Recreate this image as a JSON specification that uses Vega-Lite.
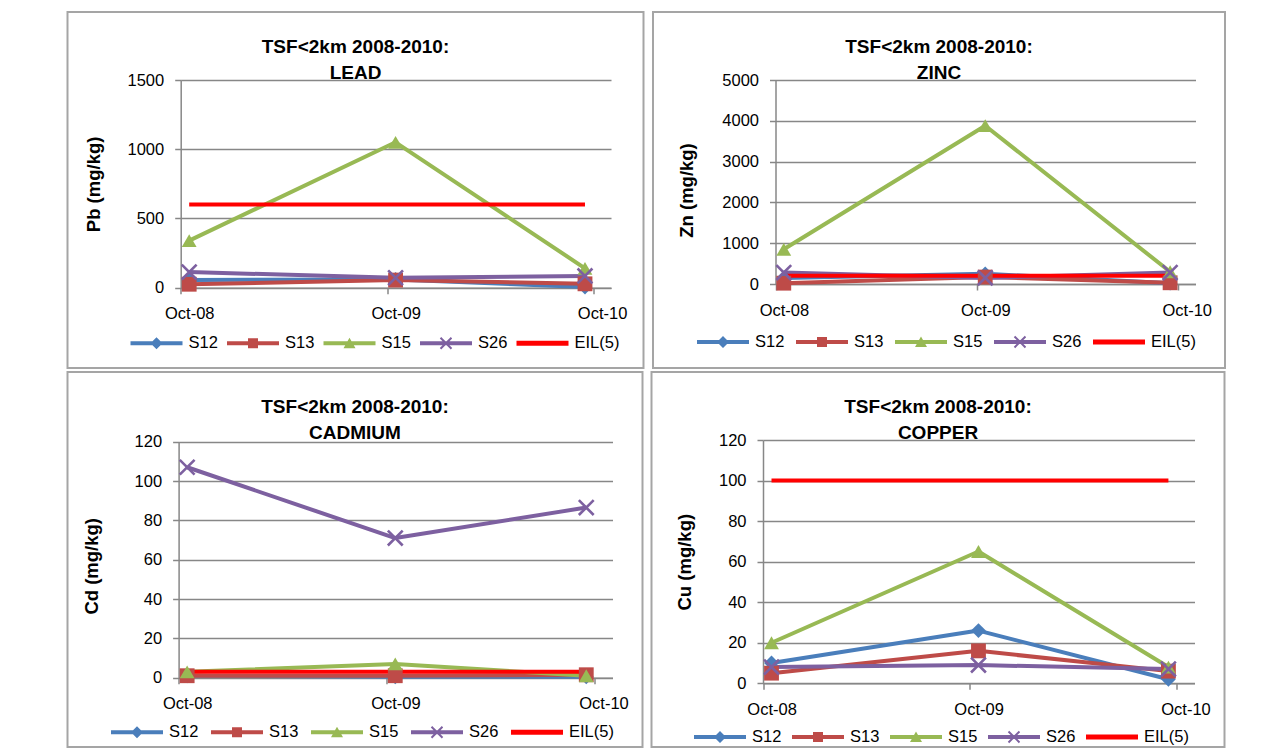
{
  "$schema": "https://vega.github.io/schema/vega-lite/v6.json",
  "padding": {"left": 66.5, "top": 11, "right": 0, "bottom": 0},
  "background": "white",
  "datasets": {
    "lead": [
      {"date": "2008-10-16", "series": "S12", "value": 55}, {"date": "2009-10-16", "series": "S12", "value": 60}, {"date": "2010-09-16", "series": "S12", "value": 5},
      {"date": "2008-10-16", "series": "S13", "value": 25}, {"date": "2009-10-16", "series": "S13", "value": 55}, {"date": "2010-09-16", "series": "S13", "value": 28},
      {"date": "2008-10-16", "series": "S15", "value": 340}, {"date": "2009-10-16", "series": "S15", "value": 1050}, {"date": "2010-09-16", "series": "S15", "value": 140},
      {"date": "2008-10-16", "series": "S26", "value": 113}, {"date": "2009-10-16", "series": "S26", "value": 72}, {"date": "2010-09-16", "series": "S26", "value": 85},
      {"date": "2008-10-16", "series": "EIL(5)", "value": 600}, {"date": "2009-10-16", "series": "EIL(5)", "value": 600}, {"date": "2010-09-16", "series": "EIL(5)", "value": 600}
    ],
    "zinc": [
      {"date": "2008-10-16", "series": "S12", "value": 150}, {"date": "2009-10-16", "series": "S12", "value": 250}, {"date": "2010-09-16", "series": "S12", "value": 20},
      {"date": "2008-10-16", "series": "S13", "value": 20}, {"date": "2009-10-16", "series": "S13", "value": 170}, {"date": "2010-09-16", "series": "S13", "value": 30},
      {"date": "2008-10-16", "series": "S15", "value": 850}, {"date": "2009-10-16", "series": "S15", "value": 3880}, {"date": "2010-09-16", "series": "S15", "value": 300},
      {"date": "2008-10-16", "series": "S26", "value": 280}, {"date": "2009-10-16", "series": "S26", "value": 150}, {"date": "2010-09-16", "series": "S26", "value": 280},
      {"date": "2008-10-16", "series": "EIL(5)", "value": 200}, {"date": "2009-10-16", "series": "EIL(5)", "value": 200}, {"date": "2010-09-16", "series": "EIL(5)", "value": 200}
    ],
    "cadmium": [
      {"date": "2008-10-16", "series": "S12", "value": 1}, {"date": "2009-10-16", "series": "S12", "value": 0.5}, {"date": "2010-09-16", "series": "S12", "value": 0.5},
      {"date": "2008-10-16", "series": "S13", "value": 1}, {"date": "2009-10-16", "series": "S13", "value": 1}, {"date": "2010-09-16", "series": "S13", "value": 1.5},
      {"date": "2008-10-16", "series": "S15", "value": 3}, {"date": "2009-10-16", "series": "S15", "value": 7}, {"date": "2010-09-16", "series": "S15", "value": 1},
      {"date": "2008-10-16", "series": "S26", "value": 107}, {"date": "2009-10-16", "series": "S26", "value": 71}, {"date": "2010-09-16", "series": "S26", "value": 86.5},
      {"date": "2008-10-16", "series": "EIL(5)", "value": 3}, {"date": "2009-10-16", "series": "EIL(5)", "value": 3}, {"date": "2010-09-16", "series": "EIL(5)", "value": 3}
    ],
    "copper": [
      {"date": "2008-10-16", "series": "S12", "value": 10}, {"date": "2009-10-16", "series": "S12", "value": 26}, {"date": "2010-09-16", "series": "S12", "value": 2},
      {"date": "2008-10-16", "series": "S13", "value": 5}, {"date": "2009-10-16", "series": "S13", "value": 16}, {"date": "2010-09-16", "series": "S13", "value": 6},
      {"date": "2008-10-16", "series": "S15", "value": 20}, {"date": "2009-10-16", "series": "S15", "value": 65}, {"date": "2010-09-16", "series": "S15", "value": 8},
      {"date": "2008-10-16", "series": "S26", "value": 8}, {"date": "2009-10-16", "series": "S26", "value": 9}, {"date": "2010-09-16", "series": "S26", "value": 7},
      {"date": "2008-10-16", "series": "EIL(5)", "value": 100}, {"date": "2009-10-16", "series": "EIL(5)", "value": 100}, {"date": "2010-09-16", "series": "EIL(5)", "value": 100}
    ]
  },
  "config": {
    "font": "Liberation Sans",
    "view": {"stroke": "#a5a5a5", "strokeWidth": 2},
    "axis": {
      "labelFont": "Liberation Sans", "labelFontSize": 16.5, "labelColor": "#000000",
      "titleFont": "Liberation Sans", "titleFontSize": 18.5, "titleFontWeight": "bold", "titleColor": "#000000",
      "domainColor": "#878787", "gridColor": "#878787", "tickColor": "#878787",
      "domainWidth": 1.5, "gridWidth": 1.5, "tickWidth": 1.5, "tickSize": 6,
      "labelPadding": 11, "labelFlush": false, "labelOverlap": false, "labelBound": false
    },
    "axisY": {"titleAngle": -90, "titleBaseline": "middle", "titleAlign": "center", "grid": true, "format": "d"},
    "axisX": {"grid": false, "labelPadding": 12},
    "legend": {
      "labelFont": "Liberation Sans", "labelFontSize": 16.5, "labelColor": "#000000",
      "symbolSize": 400, "labelOffset": 22, "padding": 0, "rowPadding": 0, "labelLimit": 300
    },
    "title": {"font": "Liberation Sans", "fontSize": 19, "fontWeight": "bold", "color": "#000000", "lineHeight": 26, "baseline": "bottom", "anchor": "middle", "offset": -70.5}
  },
  "resolve": {"scale": {"color": "independent", "shape": "independent"}, "legend": {"color": "independent", "shape": "independent"}},
  "spacing": 2,
  "vconcat": [
    {
      "spacing": 7.5,
      "resolve": {"scale": {"color": "independent", "shape": "independent"}, "legend": {"color": "independent", "shape": "independent"}},
      "hconcat": [
        {
          "width": 576, "height": 356,
          "data": {"name": "lead"},
          "title": {"text": ["TSF<2km 2008-2010:", "LEAD"]},
          "encoding": {
            "x": {"field": "date", "type": "temporal",
              "scale": {"type": "utc", "domain": [{"year": 2008, "month": 10, "date": 1, "utc": true}, {"year": 2010, "month": 11, "date": 1, "utc": true}], "range": [113.2, 543.5]},
              "axis": {"title": null, "values": [{"year": 2008, "month": 10, "date": 1, "utc": true}, {"year": 2009, "month": 10, "date": 1, "utc": true}, {"year": 2010, "month": 10, "date": 1, "utc": true}], "format": "%b-%y", "offset": -80.3, "labelOffset": 8.6}},
            "y": {"field": "value", "type": "quantitative",
              "scale": {"domain": [0, 1500], "range": [275.7, 68], "nice": false, "zero": false},
              "axis": {"title": "Pb (mg/kg)", "values": [0, 500, 1000, 1500], "format": "d", "offset": -113.2, "titleX": -87.7, "titleY": 171.9}},
            "color": {"field": "series", "type": "nominal",
              "scale": {"domain": ["S12", "S13", "S15", "S26", "EIL(5)"], "range": ["#4A7EBB", "#BE4B48", "#98B954", "#7D60A0", "#FF0000"]},
              "legend": {"title": null, "orient": "none", "legendX": 79, "legendY": 321, "direction": "horizontal", "columns": 5, "columnPadding": 8.5,
                "encode": {"symbols": {"update": {
                  "shape": {"signal": "{'S12':'M-2.6,-0.2H2.6V0.2H-2.6Z M0,-0.6L0.6,0L0,0.6L-0.6,0Z','S13':'M-2.6,-0.2H2.6V0.2H-2.6Z M-0.5,-0.5H0.5V0.5H-0.5Z','S15':'M-2.6,-0.2H2.6V0.2H-2.6Z M0,-0.55L0.6,0.5L-0.6,0.5Z','S26':'M-2.6,-0.2H2.6V0.2H-2.6Z M-0.48,-0.62L0.62,0.48L0.48,0.62L-0.62,-0.48Z M0.48,-0.62L0.62,-0.48L-0.48,0.62L-0.62,0.48Z','EIL(5)':'M-2.6,-0.25H2.6V0.25H-2.6Z'}[datum.value]"},
                  "fill": {"signal": "{'S12':'#4A7EBB','S13':'#BE4B48','S15':'#98B954','S26':'#7D60A0','EIL(5)':'#FF0000'}[datum.value]"},
                  "stroke": {"value": "transparent"}, "strokeWidth": {"value": 0}, "size": {"value": 400}, "opacity": {"value": 1}
                }}}}}
          },
          "layer": [
            {"mark": {"type": "line", "strokeWidth": 4, "strokeJoin": "round", "strokeCap": "butt"}},
            {"transform": [{"filter": "datum.series !== 'EIL(5)'"}],
             "mark": {"type": "point", "filled": true, "size": 220, "opacity": 1, "strokeWidth": 0},
             "encoding": {"shape": {"field": "series", "type": "nominal", "legend": null,
               "scale": {"domain": ["S12", "S13", "S15", "S26"], "range": ["diamond", "square", "triangle-up", "M-0.875,-1.125L1.125,0.875L0.875,1.125L-1.125,-0.875Z M0.875,-1.125L1.125,-0.875L-0.875,1.125L-1.125,0.875Z"]}}}}
          ]
        },
        {
          "width": 572, "height": 356,
          "data": {"name": "zinc"},
          "title": {"text": ["TSF<2km 2008-2010:", "ZINC"]},
          "encoding": {
            "x": {"field": "date", "type": "temporal",
              "scale": {"type": "utc", "domain": [{"year": 2008, "month": 10, "date": 1, "utc": true}, {"year": 2010, "month": 11, "date": 1, "utc": true}], "range": [122.5, 542.5]},
              "axis": {"title": null, "values": [{"year": 2008, "month": 10, "date": 1, "utc": true}, {"year": 2009, "month": 10, "date": 1, "utc": true}, {"year": 2010, "month": 10, "date": 1, "utc": true}], "format": "%b-%y", "offset": -84, "labelOffset": 8.4}},
            "y": {"field": "value", "type": "quantitative",
              "scale": {"domain": [0, 5000], "range": [272, 68], "nice": false, "zero": false},
              "axis": {"title": "Zn (mg/kg)", "values": [0, 1000, 2000, 3000, 4000, 5000], "format": "d", "offset": -122.5, "titleX": -89.2, "titleY": 178}},
            "color": {"field": "series", "type": "nominal",
              "scale": {"domain": ["S12", "S13", "S15", "S26", "EIL(5)"], "range": ["#4A7EBB", "#BE4B48", "#98B954", "#7D60A0", "#FF0000"]},
              "legend": {"title": null, "orient": "none", "legendX": 60, "legendY": 319.7, "direction": "horizontal", "columns": 5, "columnPadding": 11,
                "encode": {"symbols": {"update": {
                  "shape": {"signal": "{'S12':'M-2.6,-0.2H2.6V0.2H-2.6Z M0,-0.6L0.6,0L0,0.6L-0.6,0Z','S13':'M-2.6,-0.2H2.6V0.2H-2.6Z M-0.5,-0.5H0.5V0.5H-0.5Z','S15':'M-2.6,-0.2H2.6V0.2H-2.6Z M0,-0.55L0.6,0.5L-0.6,0.5Z','S26':'M-2.6,-0.2H2.6V0.2H-2.6Z M-0.48,-0.62L0.62,0.48L0.48,0.62L-0.62,-0.48Z M0.48,-0.62L0.62,-0.48L-0.48,0.62L-0.62,0.48Z','EIL(5)':'M-2.6,-0.25H2.6V0.25H-2.6Z'}[datum.value]"},
                  "fill": {"signal": "{'S12':'#4A7EBB','S13':'#BE4B48','S15':'#98B954','S26':'#7D60A0','EIL(5)':'#FF0000'}[datum.value]"},
                  "stroke": {"value": "transparent"}, "strokeWidth": {"value": 0}, "size": {"value": 400}, "opacity": {"value": 1}
                }}}}}
          },
          "layer": [
            {"mark": {"type": "line", "strokeWidth": 4, "strokeJoin": "round", "strokeCap": "butt"}},
            {"transform": [{"filter": "datum.series !== 'EIL(5)'"}],
             "mark": {"type": "point", "filled": true, "size": 220, "opacity": 1, "strokeWidth": 0},
             "encoding": {"shape": {"field": "series", "type": "nominal", "legend": null,
               "scale": {"domain": ["S12", "S13", "S15", "S26"], "range": ["diamond", "square", "triangle-up", "M-0.875,-1.125L1.125,0.875L0.875,1.125L-1.125,-0.875Z M0.875,-1.125L1.125,-0.875L-0.875,1.125L-1.125,0.875Z"]}}}}
          ]
        }
      ]
    },
    {
      "spacing": 7,
      "resolve": {"scale": {"color": "independent", "shape": "independent"}, "legend": {"color": "independent", "shape": "independent"}},
      "hconcat": [
        {
          "width": 575, "height": 375,
          "data": {"name": "cadmium"},
          "title": {"text": ["TSF<2km 2008-2010:", "CADMIUM"]},
          "encoding": {
            "x": {"field": "date", "type": "temporal",
              "scale": {"type": "utc", "domain": [{"year": 2008, "month": 10, "date": 1, "utc": true}, {"year": 2010, "month": 11, "date": 1, "utc": true}], "range": [111.1, 545]},
              "axis": {"title": null, "values": [{"year": 2008, "month": 10, "date": 1, "utc": true}, {"year": 2009, "month": 10, "date": 1, "utc": true}, {"year": 2010, "month": 10, "date": 1, "utc": true}], "format": "%b-%y", "offset": -69.3, "labelOffset": 8.7}},
            "y": {"field": "value", "type": "quantitative",
              "scale": {"domain": [0, 120], "range": [305.7, 69.7], "nice": false, "zero": false},
              "axis": {"title": "Cd (mg/kg)", "values": [0, 20, 40, 60, 80, 100, 120], "format": "d", "offset": -111.1, "titleX": -87.6, "titleY": 193.8}},
            "color": {"field": "series", "type": "nominal",
              "scale": {"domain": ["S12", "S13", "S15", "S26", "EIL(5)"], "range": ["#4A7EBB", "#BE4B48", "#98B954", "#7D60A0", "#FF0000"]},
              "legend": {"title": null, "orient": "none", "legendX": 59.5, "legendY": 350, "direction": "horizontal", "columns": 5, "columnPadding": 12,
                "encode": {"symbols": {"update": {
                  "shape": {"signal": "{'S12':'M-2.6,-0.2H2.6V0.2H-2.6Z M0,-0.6L0.6,0L0,0.6L-0.6,0Z','S13':'M-2.6,-0.2H2.6V0.2H-2.6Z M-0.5,-0.5H0.5V0.5H-0.5Z','S15':'M-2.6,-0.2H2.6V0.2H-2.6Z M0,-0.55L0.6,0.5L-0.6,0.5Z','S26':'M-2.6,-0.2H2.6V0.2H-2.6Z M-0.48,-0.62L0.62,0.48L0.48,0.62L-0.62,-0.48Z M0.48,-0.62L0.62,-0.48L-0.48,0.62L-0.62,0.48Z','EIL(5)':'M-2.6,-0.25H2.6V0.25H-2.6Z'}[datum.value]"},
                  "fill": {"signal": "{'S12':'#4A7EBB','S13':'#BE4B48','S15':'#98B954','S26':'#7D60A0','EIL(5)':'#FF0000'}[datum.value]"},
                  "stroke": {"value": "transparent"}, "strokeWidth": {"value": 0}, "size": {"value": 400}, "opacity": {"value": 1}
                }}}}}
          },
          "layer": [
            {"mark": {"type": "line", "strokeWidth": 4, "strokeJoin": "round", "strokeCap": "butt"}},
            {"transform": [{"filter": "datum.series !== 'EIL(5)'"}],
             "mark": {"type": "point", "filled": true, "size": 220, "opacity": 1, "strokeWidth": 0},
             "encoding": {"shape": {"field": "series", "type": "nominal", "legend": null,
               "scale": {"domain": ["S12", "S13", "S15", "S26"], "range": ["diamond", "square", "triangle-up", "M-0.875,-1.125L1.125,0.875L0.875,1.125L-1.125,-0.875Z M0.875,-1.125L1.125,-0.875L-0.875,1.125L-1.125,0.875Z"]}}}}
          ]
        },
        {
          "width": 573, "height": 375,
          "data": {"name": "copper"},
          "title": {"text": ["TSF<2km 2008-2010:", "COPPER"]},
          "encoding": {
            "x": {"field": "date", "type": "temporal",
              "scale": {"type": "utc", "domain": [{"year": 2008, "month": 10, "date": 1, "utc": true}, {"year": 2010, "month": 11, "date": 1, "utc": true}], "range": [111.5, 543]},
              "axis": {"title": null, "values": [{"year": 2008, "month": 10, "date": 1, "utc": true}, {"year": 2009, "month": 10, "date": 1, "utc": true}, {"year": 2010, "month": 10, "date": 1, "utc": true}], "format": "%b-%y", "offset": -63.7, "labelOffset": 8.6}},
            "y": {"field": "value", "type": "quantitative",
              "scale": {"domain": [0, 120], "range": [311.3, 68], "nice": false, "zero": false},
              "axis": {"title": "Cu (mg/kg)", "values": [0, 20, 40, 60, 80, 100, 120], "format": "d", "offset": -111.5, "titleX": -78.7, "titleY": 189.7}},
            "color": {"field": "series", "type": "nominal",
              "scale": {"domain": ["S12", "S13", "S15", "S26", "EIL(5)"], "range": ["#4A7EBB", "#BE4B48", "#98B954", "#7D60A0", "#FF0000"]},
              "legend": {"title": null, "orient": "none", "legendX": 58.5, "legendY": 354.7, "direction": "horizontal", "columns": 5, "columnPadding": 10,
                "encode": {"symbols": {"update": {
                  "shape": {"signal": "{'S12':'M-2.6,-0.2H2.6V0.2H-2.6Z M0,-0.6L0.6,0L0,0.6L-0.6,0Z','S13':'M-2.6,-0.2H2.6V0.2H-2.6Z M-0.5,-0.5H0.5V0.5H-0.5Z','S15':'M-2.6,-0.2H2.6V0.2H-2.6Z M0,-0.55L0.6,0.5L-0.6,0.5Z','S26':'M-2.6,-0.2H2.6V0.2H-2.6Z M-0.48,-0.62L0.62,0.48L0.48,0.62L-0.62,-0.48Z M0.48,-0.62L0.62,-0.48L-0.48,0.62L-0.62,0.48Z','EIL(5)':'M-2.6,-0.25H2.6V0.25H-2.6Z'}[datum.value]"},
                  "fill": {"signal": "{'S12':'#4A7EBB','S13':'#BE4B48','S15':'#98B954','S26':'#7D60A0','EIL(5)':'#FF0000'}[datum.value]"},
                  "stroke": {"value": "transparent"}, "strokeWidth": {"value": 0}, "size": {"value": 400}, "opacity": {"value": 1}
                }}}}}
          },
          "layer": [
            {"mark": {"type": "line", "strokeWidth": 4, "strokeJoin": "round", "strokeCap": "butt"}},
            {"transform": [{"filter": "datum.series !== 'EIL(5)'"}],
             "mark": {"type": "point", "filled": true, "size": 220, "opacity": 1, "strokeWidth": 0},
             "encoding": {"shape": {"field": "series", "type": "nominal", "legend": null,
               "scale": {"domain": ["S12", "S13", "S15", "S26"], "range": ["diamond", "square", "triangle-up", "M-0.875,-1.125L1.125,0.875L0.875,1.125L-1.125,-0.875Z M0.875,-1.125L1.125,-0.875L-0.875,1.125L-1.125,0.875Z"]}}}}
          ]
        }
      ]
    }
  ]
}
